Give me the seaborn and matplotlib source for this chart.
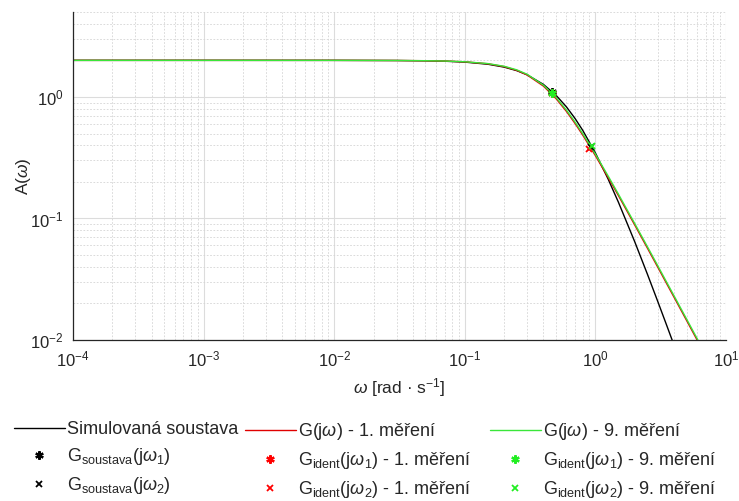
import numpy as np
import pandas as pd
import matplotlib
matplotlib.use("Agg")
import matplotlib.pyplot as plt
from matplotlib.lines import Line2D
from matplotlib.ticker import LogLocator, LogFormatterSciNotation, NullFormatter
import seaborn as sns

# ---- data ----
omega = [1e-4, 1e-3, 1e-2, 0.03, 0.05, 0.07, 0.1, 0.15, 0.2, 0.25, 0.3, 0.4, 0.5,
         0.6, 0.7, 0.8, 1.0, 1.25, 1.5, 2.0, 2.5, 3.0, 3.5, 4.0, 5.0, 6.0, 7.0, 8.0, 10.0]

a_sim = [2.000, 2.000, 1.9993, 1.994, 1.9835, 1.9677, 1.935, 1.859, 1.760, 1.646, 1.522,
         1.268, 1.031, 0.8287, 0.663, 0.531, 0.3461, 0.2117, 0.1362, 0.0644, 0.03486,
         0.02081, 0.01336, 0.00907, 0.00471, 0.00273, 0.00173, 0.00116, 0.00060]

a_m1 = [2.000, 2.000, 1.9997, 1.9951, 1.9864, 1.9732, 1.9450, 1.8750, 1.7772, 1.6556,
        1.5176, 1.2282, 0.9681, 0.7606, 0.6032, 0.4853, 0.3290, 0.2182, 0.1544, 0.08846,
        0.05709, 0.03982, 0.02930, 0.02250, 0.01443, 0.010031, 0.007374, 0.005648, 0.003617]

a_m9 = [2.000, 2.000, 1.9997, 1.9953, 1.9871, 1.9746, 1.9479, 1.8815, 1.7881, 1.6708,
        1.5364, 1.2503, 0.9894, 0.7792, 0.6188, 0.4982, 0.3380, 0.2242, 0.1587, 0.0909,
        0.05867, 0.04092, 0.03012, 0.02312, 0.01483, 0.010308, 0.007578, 0.005804, 0.003717]

# measured points (omega, A)
soust_w = [0.466, 0.93]
soust_a = [1.09, 0.385]
id1_w = [0.466, 0.90]
id1_a = [1.07, 0.37]
id9_w = [0.466, 0.937]
id9_a = [1.07, 0.394]

labels_lines = ["Simulovaná soustava", r"G(j$\mathit{\omega}$) - 1. měření", r"G(j$\mathit{\omega}$) - 9. měření"]

# ---- style ----
sns.set_style("white")
plt.rcParams['font.family'] = ['Liberation Sans', 'DejaVu Sans']
plt.rcParams['mathtext.fontset'] = 'custom'
plt.rcParams['mathtext.rm'] = 'Liberation Sans'
plt.rcParams['mathtext.it'] = 'Liberation Sans:italic'
plt.rcParams['mathtext.default'] = 'regular'

C_BLACK = "#000000"
C_RED = "#e00000"
C_GREEN = "#3ae63a"
TXT = "#262626"

fig = plt.figure(figsize=(7.39, 5.01), dpi=100)
ax = fig.add_axes([73 / 739, 1 - 340 / 501, (726 - 73) / 739, (340 - 12) / 501])

df = pd.DataFrame({
    "omega": omega * 3,
    "A": a_sim + a_m1 + a_m9,
    "series": [labels_lines[0]] * len(omega) + [labels_lines[1]] * len(omega) + [labels_lines[2]] * len(omega),
})

ax.set_xscale("log")
ax.set_yscale("log")
sns.lineplot(data=df, x="omega", y="A", hue="series",
             palette={labels_lines[0]: C_BLACK, labels_lines[1]: C_RED, labels_lines[2]: C_GREEN},
             linewidth=1.0, ax=ax, legend=False, sort=False, estimator=None)

ast = (6, 2, 0)
ms = 6
ax.plot(soust_w[:1], soust_a[:1], ls="none", marker=ast, ms=ms, mew=1.6, color=C_BLACK)
ax.plot(soust_w[1:], soust_a[1:], ls="none", marker="x", ms=5, mew=1.3, color=C_BLACK)
ax.plot(id1_w[:1], id1_a[:1], ls="none", marker=ast, ms=ms, mew=1.6, color="#ff0000")
ax.plot(id1_w[1:], id1_a[1:], ls="none", marker="x", ms=5, mew=1.3, color="#ff0000")
ax.plot(id9_w[:1], id9_a[:1], ls="none", marker=ast, ms=ms, mew=1.6, color="#22ee22")
ax.plot(id9_w[1:], id9_a[1:], ls="none", marker="x", ms=5, mew=1.3, color="#22ee22")

ax.set_xlim(1e-4, 10)
ax.set_ylim(1e-2, 5)

ax.xaxis.set_major_locator(LogLocator(base=10, numticks=10))
ax.xaxis.set_minor_locator(LogLocator(base=10, subs=np.arange(2, 10), numticks=20))
ax.yaxis.set_major_locator(LogLocator(base=10, numticks=10))
ax.yaxis.set_minor_locator(LogLocator(base=10, subs=np.arange(2, 10), numticks=20))
ax.xaxis.set_major_formatter(LogFormatterSciNotation())
ax.yaxis.set_major_formatter(LogFormatterSciNotation())
ax.xaxis.set_minor_formatter(NullFormatter())
ax.yaxis.set_minor_formatter(NullFormatter())

ax.grid(True, which="major", color="#dcdcdc", linewidth=0.8, linestyle="-")
ax.grid(True, which="minor", color="#d4d4d4", linewidth=0.6, linestyle=(0, (2, 2)))
ax.set_axisbelow(True)

for s in ["top", "right"]:
    ax.spines[s].set_visible(False)
for s in ["left", "bottom"]:
    ax.spines[s].set_color("#262626")
    ax.spines[s].set_linewidth(0.9)

ax.tick_params(which="major", direction="in", length=5, width=0.9, color="#262626",
               labelsize=12, labelcolor=TXT, pad=7)
ax.tick_params(which="minor", direction="in", length=3, width=0.7, color="#262626")

ax.set_xlabel(r"$\mathit{\omega}$ [rad · s$^{-1}$]", fontsize=12.5, color=TXT, labelpad=5)
ax.set_ylabel(r"A($\mathit{\omega}$)", fontsize=12.5, color=TXT)
ax.yaxis.set_label_coords((33 - 73) / 653, 0.5)

# legend: three columns, each its own legend
def mk_line(c):
    return Line2D([], [], color=c, lw=1.0)

def mk_ast(c):
    return Line2D([], [], ls="none", marker=ast, ms=ms, mew=1.6, color=c)

def mk_x(c):
    return Line2D([], [], ls="none", marker="x", ms=5, mew=1.3, color=c)

columns = [
    ([mk_line(C_BLACK), mk_ast(C_BLACK), mk_x(C_BLACK)],
     [labels_lines[0],
      r"G$_{soustava}$(j$\mathit{\omega}_1$)",
      r"G$_{soustava}$(j$\mathit{\omega}_2$)"], 14),
    ([mk_line(C_RED), mk_ast("#ff0000"), mk_x("#ff0000")],
     [labels_lines[1],
      r"G$_{ident}$(j$\mathit{\omega}_1$) - 1. měření",
      r"G$_{ident}$(j$\mathit{\omega}_2$) - 1. měření"], 245),
    ([mk_line(C_GREEN), mk_ast("#22ee22"), mk_x("#22ee22")],
     [labels_lines[2],
      r"G$_{ident}$(j$\mathit{\omega}_1$) - 9. měření",
      r"G$_{ident}$(j$\mathit{\omega}_2$) - 9. měření"], 490),
]

for hs, ls, x0 in columns:
    leg = fig.legend(hs, ls, ncol=1, loc="upper left", bbox_to_anchor=(x0 / 739, 1 - 421 / 501),
                     frameon=False, fontsize=13, handlelength=2.8, handletextpad=0.12,
                     labelspacing=0.45, borderaxespad=0, borderpad=0)
    for t in leg.get_texts():
        t.set_color(TXT)

fig.savefig("out.png", dpi=100)
